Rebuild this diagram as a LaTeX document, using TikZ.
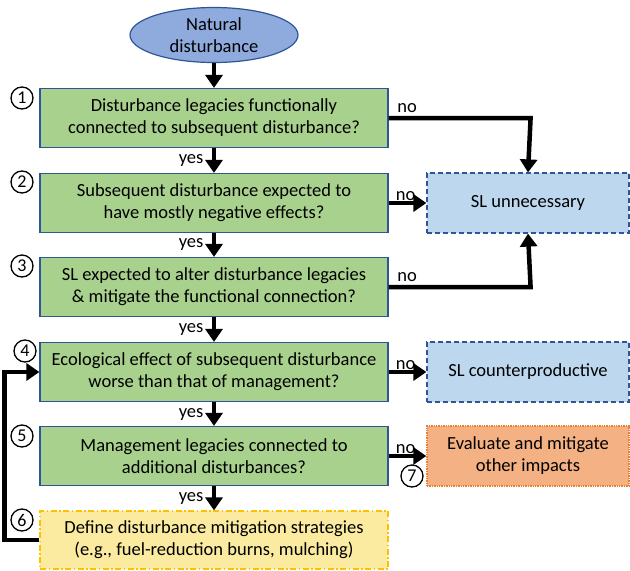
\documentclass[tikz,border=0pt]{standalone}
\usepackage{fontspec}
\setmainfont{Carlito}
\usetikzlibrary{arrows.meta,shapes.geometric}
\definecolor{qgreen}{RGB}{169,209,142}
\definecolor{qblue}{RGB}{47,85,151}
\definecolor{natblue}{RGB}{143,170,220}
\definecolor{slblue}{RGB}{189,215,238}
\definecolor{evorange}{RGB}{244,177,131}
\definecolor{evline}{RGB}{237,125,49}
\definecolor{defyellow}{RGB}{250,235,160}
\definecolor{defline}{RGB}{255,192,0}
\tikzset{
  qbox/.style={draw=qblue,line width=1.2pt,fill=qgreen,minimum width=348pt,minimum height=59pt,align=center},
  slbox/.style={draw=qblue,line width=1.2pt,dashed,dash pattern=on 5pt off 3pt,fill=slblue,minimum width=202pt,minimum height=60pt,align=center},
  flow/.style={line width=4.5pt,-{Triangle[width=17pt,length=13pt]}},
  numcirc/.style={circle,draw,line width=1.3pt,inner sep=0pt,minimum size=22pt,font=\fontsize{18}{18}\selectfont},
}
\begin{document}
\begin{tikzpicture}[x=1pt,y=-1pt,font=\fontsize{18.5}{22}\selectfont]
  \useasboundingbox (0,0) rectangle (630,571);
  % start
  \node[ellipse,draw=qblue,line width=1.2pt,fill=natblue,minimum width=168pt,minimum height=55pt,align=center,inner sep=0pt] (nat) at (214,35) {Natural\\disturbance};
  % questions
  \node[qbox] (q1) at (214,118) {Disturbance legacies functionally\\connected to subsequent disturbance?};
  \node[qbox] (q2) at (214,203) {Subsequent disturbance expected to\\have mostly negative effects?};
  \node[qbox] (q3) at (214,287) {SL expected to alter disturbance legacies\\\& mitigate the functional connection?};
  \node[qbox] (q4) at (214,372) {Ecological effect of subsequent disturbance\\worse than that of management?};
  \node[qbox] (q5) at (214,456) {Management legacies connected to\\additional disturbances?};
  \node[draw=defline,line width=1.2pt,dash pattern=on 6pt off 2.5pt on 1.5pt off 2.5pt,fill=defyellow,minimum width=348pt,minimum height=58pt,align=center] (q6) at (214,540) {Define disturbance mitigation strategies\\(e.g., fuel-reduction burns, mulching)};
  % outcomes
  \node[slbox] (unn) at (528,203) {SL unnecessary};
  \node[slbox] (cntr) at (528,372) {SL counterproductive};
  \node[draw=evline,line width=1.4pt,densely dotted,fill=evorange,minimum width=202pt,minimum height=60pt,align=center] (eval) at (528,456) {Evaluate and mitigate\\other impacts};
  % numbers
  \node[numcirc] (n1) at (22,98) {1};
  \node[numcirc] (n2) at (22,182) {2};
  \node[numcirc] (n3) at (22,266) {3};
  \node[numcirc] (n4) at (25,351) {4};
  \node[numcirc] (n5) at (22,436) {5};
  \node[numcirc] (n6) at (22,520) {6};
  \node[numcirc] (n7) at (412,476) {7};
  % yes arrows
  \draw[flow] (nat) -- (q1);
  \draw[flow] (q1) -- node[left=5pt] {yes} (q2);
  \draw[flow] (q2) -- node[left=5pt] {yes} (q3);
  \draw[flow] (q3) -- node[left=5pt] {yes} (q4);
  \draw[flow] (q4) -- node[left=5pt] {yes} (q5);
  \draw[flow] (q5) -- node[left=5pt] {yes} (q6);
  % no arrows
  \draw[flow] (q1.east) -- node[pos=0.13,above=0pt] {no} ++(142,0) -- (unn.north);
  \draw[flow] (q2) -- node[pos=0.45,above=-3pt] {no} (unn);
  \draw[flow] (q3.east) -- node[pos=0.13,above=0pt] {no} ++(142,0) -- (unn.south);
  \draw[flow] (q4) -- node[pos=0.45,above=-3pt] {no} (cntr);
  \draw[flow] (q5) -- node[pos=0.45,above=-3pt] {no} (eval);
  % feedback
  \draw[flow] (q6.west) -- ++(-35,0) |- (q4.west);
\end{tikzpicture}
\end{document}
